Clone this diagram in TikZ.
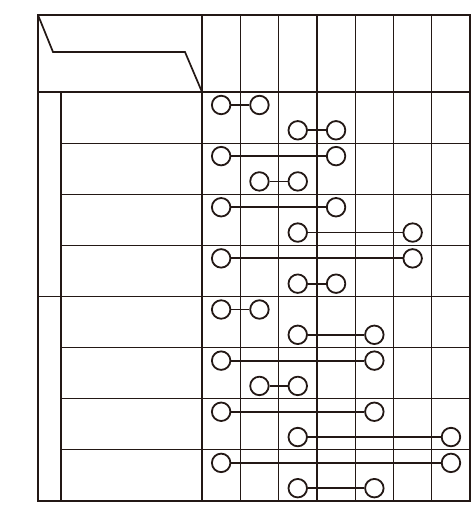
\documentclass[tikz,border=0pt]{standalone}
\definecolor{ink}{RGB}{35,24,21}
\begin{document}
\begin{tikzpicture}[x=1pt,y=-1pt, color=ink,
  heavy/.style={line width=2.3pt},
  light/.style={line width=1.2pt},
  diag/.style={line width=1.7pt, line join=miter},
  ball/.style={circle, draw=ink, line width=1.8pt, fill=white, minimum size=18.5pt, inner sep=0pt},
  link/.style={line width=1.8pt}]
\useasboundingbox (0,0) rectangle (475,518);
% thin grid: column lines
\foreach \i in {1,...,6} {
  \pgfmathsetmacro{\xx}{202+38.3*\i}
  \draw[light] (\xx,15) -- (\xx,501);
}
% thin grid: row lines (from inner vertical)
\foreach \k in {1,2,3,5,6,7} {
  \pgfmathsetmacro{\yy}{92+51.125*\k}
  \draw[light] (61,\yy) -- (470,\yy);
}
% group separator row line from outer frame
\draw[light] (38,296.5) -- (470,296.5);
% inner vertical of left column
\draw[light] (61,92) -- (61,501);
% header diagonal
\draw[diag] (38,15) -- (53,52) -- (185,52) -- (202,92);
% heavy lines
\draw[heavy] (38,92) -- (470,92);
\draw[heavy] (202,15) -- (202,501);
\draw[heavy] (38,15) rectangle (470,501);
% circle pairs
\foreach \k/\a/\b/\c/\d in {1/1/2/3/4, 2/1/4/2/3, 3/1/4/3/6, 4/1/6/3/4,
                            5/1/2/3/5, 6/1/5/2/3, 7/1/5/3/7, 8/1/7/3/5} {
  \pgfmathsetmacro{\yt}{92+51.125*(\k-1)+13}
  \pgfmathsetmacro{\yb}{92+51.125*(\k-1)+38.3}
  \pgfmathsetmacro{\xa}{202+38.3*(\a-0.5)}
  \pgfmathsetmacro{\xb}{202+38.3*(\b-0.5)}
  \pgfmathsetmacro{\xc}{202+38.3*(\c-0.5)}
  \pgfmathsetmacro{\xd}{202+38.3*(\d-0.5)}
  \node[ball] (r\k ta) at (\xa,\yt) {};
  \node[ball] (r\k tb) at (\xb,\yt) {};
  \node[ball] (r\k ba) at (\xc,\yb) {};
  \node[ball] (r\k bb) at (\xd,\yb) {};
  \draw[link] (r\k ta) -- (r\k tb);
  \draw[link] (r\k ba) -- (r\k bb);
}
\end{tikzpicture}
\end{document}
